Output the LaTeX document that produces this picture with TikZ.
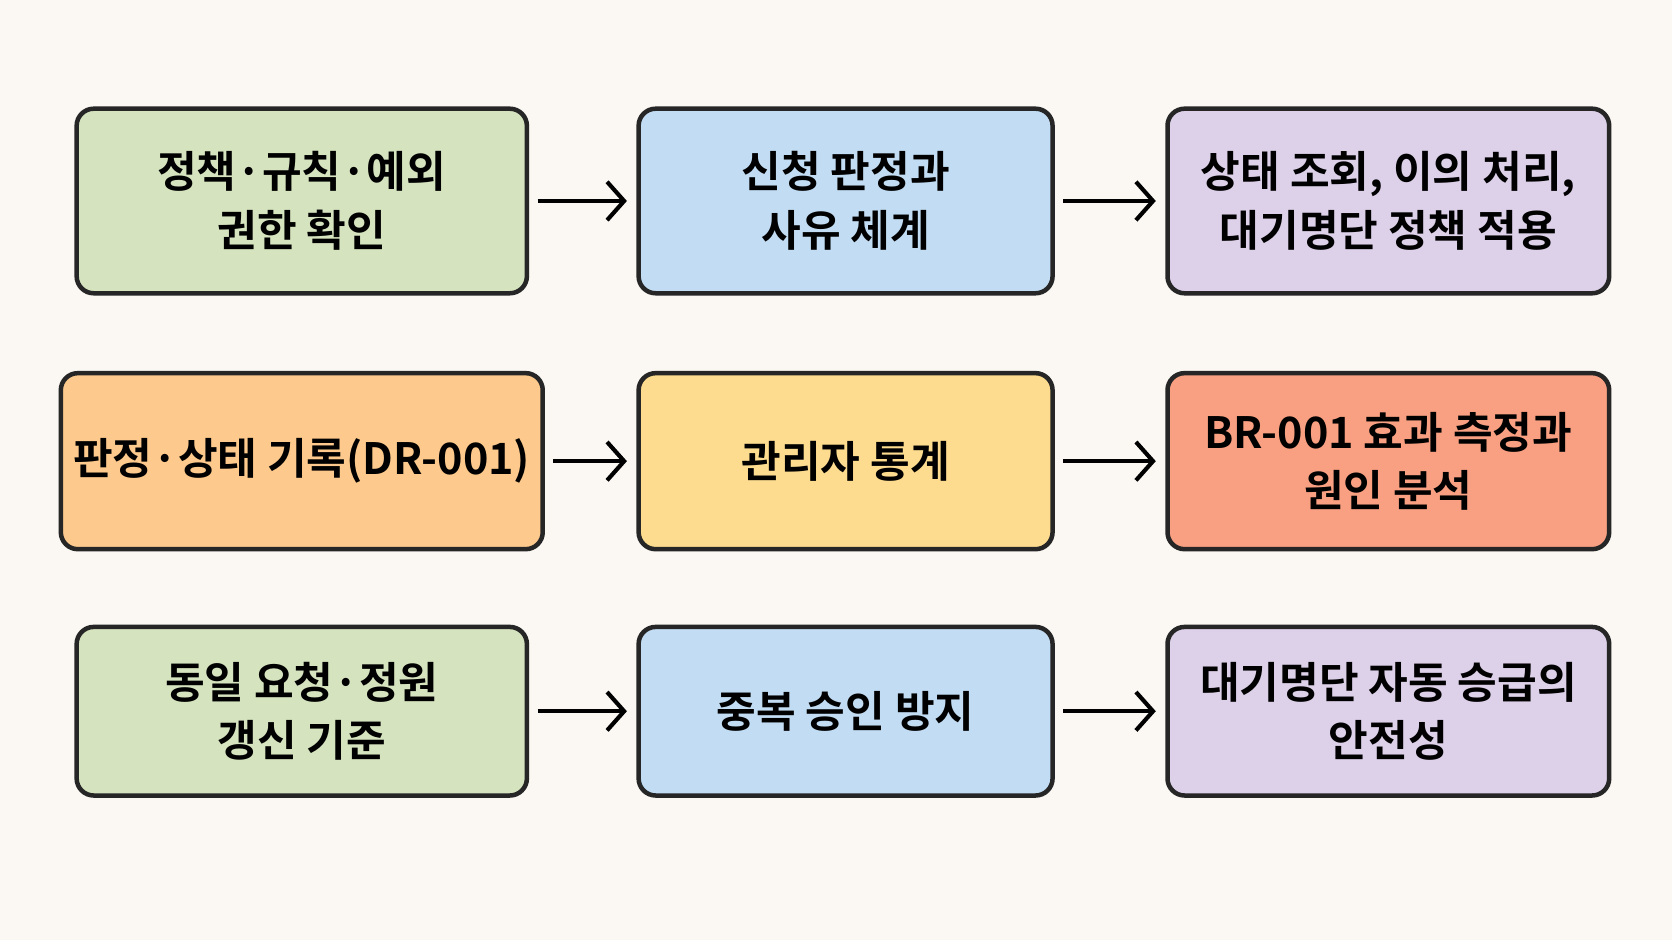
\documentclass[tikz,border=0pt]{standalone}
\usepackage{fontspec}
\setmainfont{Noto Sans CJK KR}[BoldFont={* Bold}]
\usetikzlibrary{arrows.meta}
\definecolor{bgcol}{HTML}{FBF8F3}
\definecolor{greenbox}{HTML}{D5E3BE}
\definecolor{bluebox}{HTML}{C2DDF3}
\definecolor{purplebox}{HTML}{DDD0E9}
\definecolor{orangebox}{HTML}{FDC98C}
\definecolor{yellowbox}{HTML}{FDDC8F}
\definecolor{redbox}{HTML}{F9A082}

\begin{document}
\begin{tikzpicture}[
		x=0.01cm,
		y=0.01cm,
		box/.style={
			shape=rectangle,
			draw=black!85,
			line width=1.2pt,
			rounded corners=0.16cm,
			align=center,
			font=\fontsize{11.5}{15.6}\selectfont\bfseries,
		},
		link/.style={
			line width=1.1pt,
			-{Straight Barb[length=1.6mm,width=3.6mm,line width=1.1pt]},
			shorten <=8pt*0.28,
			shorten >=9pt*0.28,
		},
	]
		\fill[bgcol] (0,0) rectangle (1568,882);
		\useasboundingbox (0,0) rectangle (1568,882);

		% row 1
		\node[box, fill=greenbox, minimum width=4.22cm, minimum height=1.73cm] (policy) at (283,693.5) {정책·규칙·예외\\권한 확인};
		\node[box, fill=bluebox, minimum width=3.88cm, minimum height=1.73cm] (judge) at (793,693.5) {신청 판정과\\사유 체계};
		\node[box, fill=purplebox, minimum width=4.14cm, minimum height=1.73cm] (status) at (1302,693.5) {상태 조회, 이의 처리,\\대기명단 정책 적용};

		% row 2
		\node[box, fill=orangebox, minimum width=4.22cm, minimum height=1.65cm] (record) at (283,449.5) {판정·상태 기록(DR-001)};
		\node[box, fill=yellowbox, minimum width=3.88cm, minimum height=1.65cm] (stats) at (793,449.5) {관리자 통계};
		\node[box, fill=redbox, minimum width=4.14cm, minimum height=1.65cm] (effect) at (1302,449.5) {BR-001 효과 측정과\\원인 분석};

		% row 3
		\node[box, fill=greenbox, minimum width=4.22cm, minimum height=1.58cm] (renew) at (283,215) {동일 요청·정원\\갱신 기준};
		\node[box, fill=bluebox, minimum width=3.88cm, minimum height=1.58cm] (dup) at (793,215) {중복 승인 방지};
		\node[box, fill=purplebox, minimum width=4.14cm, minimum height=1.58cm] (promo) at (1302,215) {대기명단 자동 승급의\\안전성};

		\draw[link] (policy) -- (judge);
		\draw[link] (judge) -- (status);
		\draw[link] (record) -- (stats);
		\draw[link] (stats) -- (effect);
		\draw[link] (renew) -- (dup);
		\draw[link] (dup) -- (promo);
	\end{tikzpicture}
\end{document}
